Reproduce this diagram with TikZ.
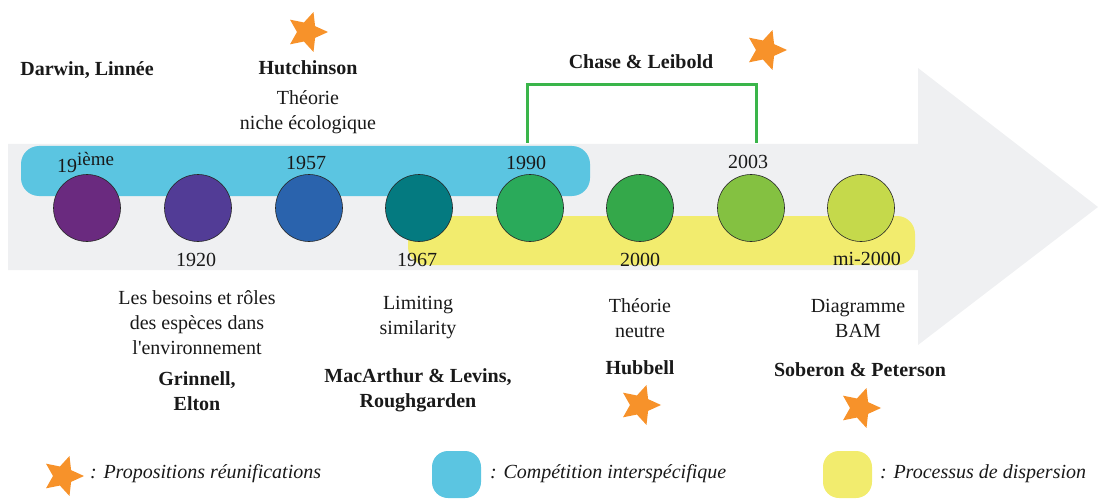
\documentclass[tikz,border=0pt]{standalone}
\usepackage{fontspec}
\setmainfont{Liberation Serif}[Ligatures=TeXOff]
\usetikzlibrary{shapes.geometric}
\definecolor{arrowgray}{HTML}{EFF0F2}
\definecolor{compblue}{HTML}{5BC5E1}
\definecolor{dispyellow}{HTML}{F2EC6E}
\definecolor{bracketgreen}{HTML}{3AB54A}
\definecolor{starorange}{HTML}{F7922A}
\definecolor{cA}{HTML}{6A2A7F}
\definecolor{cB}{HTML}{523C96}
\definecolor{cC}{HTML}{2A63AD}
\definecolor{cD}{HTML}{047A80}
\definecolor{cE}{HTML}{2AAA5A}
\definecolor{cF}{HTML}{34A84A}
\definecolor{cG}{HTML}{84C141}
\definecolor{cH}{HTML}{C5D94B}
\begin{document}
\begin{tikzpicture}[x=1pt,y=-1pt,
  every node/.style={font=\fontsize{20}{25}\selectfont, inner sep=0pt, text=black!90},
  dot/.style={circle, draw=black!85, line width=0.6pt, minimum size=67pt, inner sep=0pt},
  starmark/.style={star, star points=5, star point ratio=2.1, minimum size=42pt, fill=starorange, draw=none, rotate=-90},
  who/.style={font=\fontsize{20}{25}\selectfont\bfseries, align=center},
  what/.style={align=center},
  year/.style={anchor=base},
  legtext/.style={anchor=west, font=\fontsize{20}{25}\selectfont\itshape},
  band/.style={rounded corners=18pt, draw=none}
]
\useasboundingbox (0,0) rectangle (1098,500);

% big grey arrow
\fill[arrowgray] (8,144) -- (918,144) -- (918,68) -- (1098,207) -- (918,345) -- (918,270) -- (8,270) -- cycle;

% bands
\fill[compblue, band] (21,146) rectangle (590,196);
\fill[dispyellow, band] (408,216) rectangle (915,265);

% bracket
\coordinate (bl) at (527,143);
\coordinate (br) at (756,143);
\draw[bracketgreen, line width=3pt] (bl) -- (527,85) -- (756,85) -- (br);

% circles
\node[dot, fill=cA] (c1) at (87,208) {};
\node[dot, fill=cB] (c2) at (198,208) {};
\node[dot, fill=cC] (c3) at (309,208) {};
\node[dot, fill=cD] (c4) at (419,208) {};
\node[dot, fill=cE] (c5) at (530,208) {};
\node[dot, fill=cF] (c6) at (640,208) {};
\node[dot, fill=cG] (c7) at (751,208) {};
\node[dot, fill=cH] (c8) at (861,208) {};

% years
\node[anchor=base west] (y19) at (57,173) {19\raisebox{7pt}{\fontsize{19}{19}\selectfont ième}};
\node[year] (y1957) at (306,169) {1957};
\node[year] (y1990) at (526,169) {1990};
\node[year] (y2003) at (748,168) {2003};
\node[year] (y1920) at (196,266) {1920};
\node[year] (y1967) at (417,266) {1967};
\node[year] (y2000) at (640,266) {2000};
\node[year] (ymi) at (867,265) {mi-2000};

% upper texts
\node[who] (darwin) at (87,70) {Darwin, Linnée};
\node[who] (hutch) at (308,68) {Hutchinson};
\node[what] (niche) at (308,112) {Théorie\\niche écologique};
\node[who] (chase) at (641,62) {Chase \& Leibold};

% lower texts
\node[what] (besoins) at (197,323) {Les besoins et rôles\\des espèces dans\\l'environnement};
\node[who] (grinnell) at (197,391) {Grinnell,\\Elton};
\node[what] (limiting) at (418,318) {Limiting\\similarity};
\node[who] (macarthur) at (418,390) {MacArthur \& Levins,\\Roughgarden};
\node[what] (neutre) at (640,318) {Théorie\\neutre};
\node[who] (hubbell) at (640,368) {Hubbell};
\node[what] (bam) at (858,318) {Diagramme\\BAM};
\node[who] (soberon) at (860,370) {Soberon \& Peterson};

% stars
\node[starmark] (s1) at (307,32) {};
\node[starmark] (s2) at (766,50) {};
\node[starmark] (s3) at (640,405) {};
\node[starmark] (s4) at (860,408) {};

% legend
\node[starmark] (ls) at (63,476) {};
\node[legtext] (lst) at (90,474) {: Propositions réunifications};
\fill[compblue, rounded corners=16pt] (432,451) rectangle (481,498);
\coordinate (lb) at (456,474);
\node[legtext] (lbt) at (490,474) {: Compétition interspécifique};
\fill[dispyellow, rounded corners=16pt] (823,451) rectangle (872,498);
\coordinate (ly) at (847,474);
\node[legtext] (lyt) at (880,474) {: Processus de dispersion};
\end{tikzpicture}
\end{document}
